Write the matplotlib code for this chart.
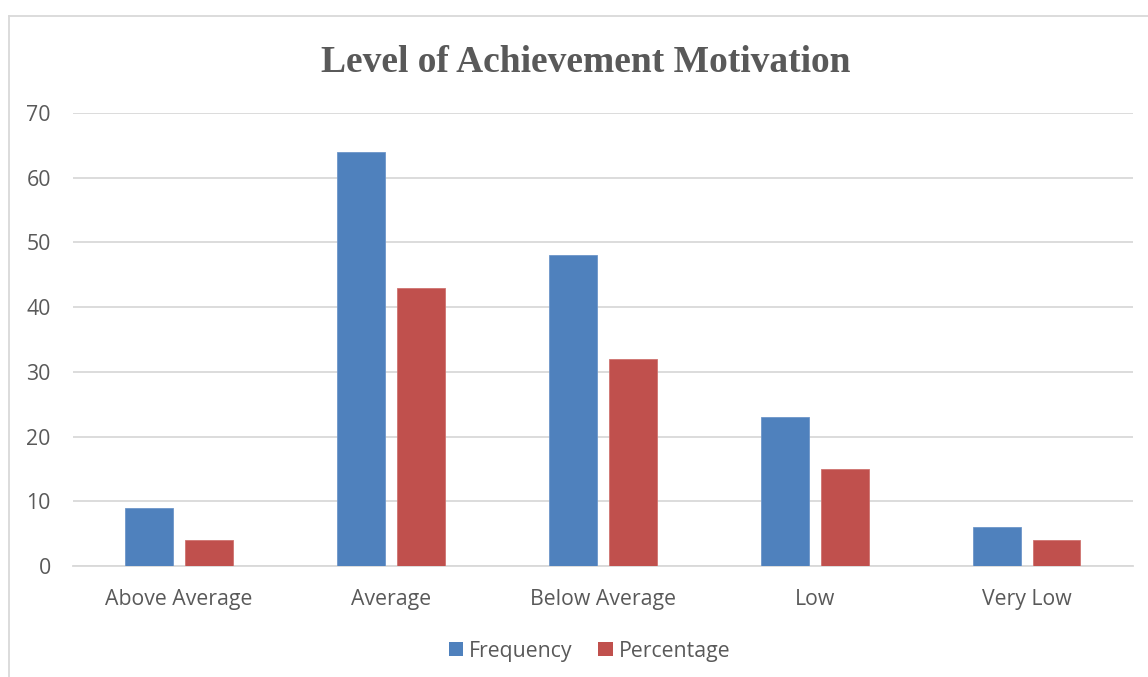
import matplotlib
matplotlib.use("Agg")
import matplotlib.pyplot as plt
import numpy as np
from matplotlib.lines import Line2D
from matplotlib.patches import Patch

categories = ["Above Average", "Average", "Below Average", "Low", "Very Low"]
frequency = [9, 64, 48, 23, 6]
percentage = [4, 43, 32, 15, 4]
yticks = [0, 10, 20, 30, 40, 50, 60, 70]

BLUE = "#4F81BD"
RED = "#C0504D"
GRID = "#D9D9D9"
TEXT = "#595959"
FS = 15.3

fig = plt.figure(figsize=(11.48, 6.77), dpi=100)
ax = fig.add_axes([73 / 1148, 1 - 566 / 677, (1132.5 - 73) / 1148, (566 - 113) / 677])

x = np.arange(len(categories))
width = 0.226
offset = 0.1415
ax.bar(x - offset, frequency, width, color=BLUE, edgecolor="#6d96c9", linewidth=0.6, zorder=3)
ax.bar(x + offset, percentage, width, color=RED, edgecolor="#cf7370", linewidth=0.6, zorder=3)

ax.set_xlim(-0.5, len(categories) - 0.5)
ax.set_ylim(0, 70)
ax.set_yticks(yticks)
ax.set_xticks(x)
ax.set_xticklabels(categories)
ax.yaxis.grid(True, color=GRID, linewidth=1.3, zorder=0)
ax.set_axisbelow(True)
for side in ["top", "right", "left"]:
    ax.spines[side].set_visible(False)
ax.spines["bottom"].set_color(GRID)
ax.spines["bottom"].set_linewidth(1.3)
ax.tick_params(axis="both", length=0, colors=TEXT, labelsize=FS)
ax.tick_params(axis="x", pad=16.5)
ax.tick_params(axis="y", pad=16)
for lbl in ax.get_xticklabels() + ax.get_yticklabels():
    lbl.set_fontfamily("Open Sans")

fig.text(585.5 / 1148, 1 - 62.5 / 677, "Level of Achievement Motivation",
         ha="center", va="center", fontsize=27, fontweight="bold",
         family="Liberation Serif", color=TEXT)

handles = [Patch(facecolor=BLUE, edgecolor="none"), Patch(facecolor=RED, edgecolor="none")]
fig.legend(handles, ["Frequency", "Percentage"], loc="center",
           bbox_to_anchor=(589.5 / 1148, 1 - 651 / 677), ncol=2, frameon=False,
           prop={"family": "Open Sans", "size": FS}, labelcolor=TEXT,
           handlelength=0.68, handleheight=0.68, handletextpad=0.28, columnspacing=1.2)

# chart frame edges (left and top)
fig.add_artist(Line2D([9 / 1148, 9 / 1148], [0, 1 - 16 / 677], transform=fig.transFigure,
                      color=GRID, linewidth=1.3))
fig.add_artist(Line2D([9 / 1148, 1], [1 - 16 / 677, 1 - 16 / 677], transform=fig.transFigure,
                      color=GRID, linewidth=1.3))

fig.savefig("out.png", dpi=100, facecolor="white")
